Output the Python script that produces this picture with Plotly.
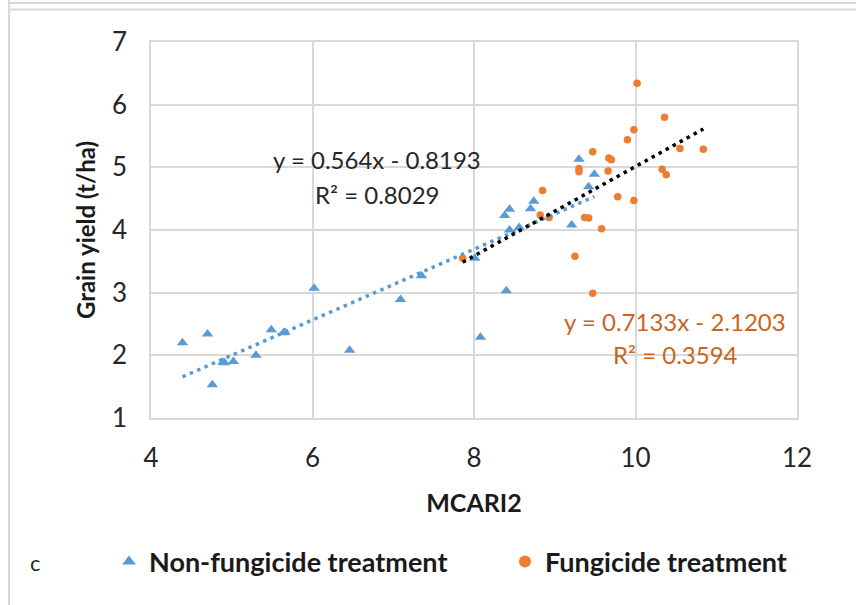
import plotly.graph_objects as go
import numpy as np

# Non-fungicide treatment (blue triangles)
nf_x = [4.39, 4.70, 4.76, 4.89, 4.91, 5.02, 5.30, 5.49, 5.64, 5.66, 6.02, 6.46, 7.09, 7.35,
        8.01, 8.40, 8.08, 8.38, 8.44, 8.44, 8.56, 8.70, 8.74, 9.21, 9.30, 9.42, 9.49]
nf_y = [2.20, 2.34, 1.53, 1.89, 1.88, 1.90, 2.00, 2.41, 2.36, 2.37, 3.07, 2.08, 2.89, 3.27,
        3.55, 3.03, 2.29, 4.23, 4.33, 4.00, 4.04, 4.34, 4.46, 4.08, 5.13, 4.69, 4.89]

# Fungicide treatment (orange circles)
f_x = [7.86, 10.02, 10.36, 9.98, 9.90, 9.47, 9.67, 9.70, 10.55, 10.84, 9.30, 9.30, 9.66,
       10.33, 10.38, 8.85, 9.78, 9.98, 8.82, 8.93, 9.37, 9.42, 9.58, 9.25, 9.47]
f_y = [3.55, 6.34, 5.80, 5.60, 5.44, 5.25, 5.15, 5.12, 5.30, 5.29, 4.98, 4.93, 4.94,
       4.97, 4.88, 4.63, 4.53, 4.47, 4.24, 4.20, 4.20, 4.19, 4.02, 3.58, 2.99]

# Trendline coefficients (slope, intercept) and R²
nf_fit = (0.564, -0.8193)
nf_r2 = 0.8029
f_fit = (0.7133, -2.1203)
f_r2 = 0.3594

x_ticks = [4, 6, 8, 10, 12]
y_ticks = [1, 2, 3, 4, 5, 6, 7]

BLUE = "#5B9BD5"
ORANGE = "#ED7D31"
FONT = "Lato"

fig = go.Figure()

fig.add_trace(go.Scatter(
    x=nf_x, y=nf_y, mode="markers", name="<b>Non-fungicide treatment</b>", legend="legend",
    marker=dict(symbol="triangle-up", size=10, color=BLUE)))
fig.add_trace(go.Scatter(
    x=f_x, y=f_y, mode="markers", name="<b>Fungicide treatment</b>", legend="legend2",
    marker=dict(symbol="circle", size=7.5, color=ORANGE)))

nf_tx = np.array([min(nf_x), max(nf_x)])
f_tx = np.array([min(f_x), max(f_x)])
fig.add_trace(go.Scatter(
    x=nf_tx, y=nf_fit[0] * nf_tx + nf_fit[1], mode="lines", showlegend=False,
    line=dict(color=BLUE, width=3.5, dash="3.5px,4.5px"), hoverinfo="skip"))
fig.add_trace(go.Scatter(
    x=f_tx, y=f_fit[0] * f_tx + f_fit[1], mode="lines", showlegend=False,
    line=dict(color="black", width=3.5, dash="3.5px,4.5px"), hoverinfo="skip"))

ann = [
    dict(x=6.80, y=5.12, text=f"y = {nf_fit[0]}x - {abs(nf_fit[1])}", font=dict(color="#262626")),
    dict(x=6.80, y=4.57, text=f"R² = {nf_r2}", font=dict(color="#262626")),
    dict(x=10.49, y=2.54, text=f"y = {f_fit[0]}x - {abs(f_fit[1])}", font=dict(color="#C9651F")),
    dict(x=10.49, y=2.01, text=f"R² = {f_r2}", font=dict(color="#C9651F")),
]
annotations = []
for a in ann:
    a["font"].update(family=FONT, size=24)
    annotations.append(dict(xref="x", yref="y", showarrow=False, xanchor="center",
                            yanchor="middle", **a))
annotations.append(dict(xref="paper", yref="paper", x=(35 - 151) / 646, y=(418 - 562) / 376,
                        text="c", showarrow=False, xanchor="center", yanchor="middle",
                        font=dict(family=FONT, size=22, color="#262626")))

grid = "#D9D9D9"
leg_common = dict(orientation="h", xanchor="left", y=(418 - 562) / 376, yanchor="middle",
                  font=dict(family=FONT, size=27, color="#1a1a1a"), itemsizing="constant",
                  bgcolor="rgba(0,0,0,0)")
fig.update_layout(
    width=856, height=605,
    margin=dict(l=151, r=59, t=42, b=187),
    paper_bgcolor="white", plot_bgcolor="white",
    font=dict(family=FONT, size=24, color="#404040"),
    xaxis=dict(range=[4, 12], tickvals=x_ticks, showgrid=True, gridcolor=grid, gridwidth=1.5,
               showline=True, linecolor=grid, linewidth=1.5, mirror=True, zeroline=False,
               ticks="", tickfont=dict(size=26, color="#262626"), ticklabelstandoff=16,
               title=dict(text="<b>MCARI2</b>", font=dict(size=25, color="#1a1a1a"), standoff=23)),
    yaxis=dict(range=[1, 7], tickvals=y_ticks, showgrid=True, gridcolor=grid, gridwidth=1.5,
               showline=True, linecolor=grid, linewidth=1.5, mirror=True, zeroline=False,
               ticks="", tickfont=dict(size=26, color="#262626"), ticklabelstandoff=17,
               title=dict(text="<b>Grain yield (t/ha)</b>", font=dict(size=24, color="#1a1a1a"),
                          standoff=10)),
    legend=dict(x=(109 - 151) / 646, **leg_common),
    legend2=dict(x=(505 - 151) / 646, **leg_common),
    annotations=annotations,
    shapes=[
        dict(type="line", xref="paper", yref="paper", x0=(9 - 151) / 646, x1=(856 - 151) / 646,
             y0=(418 - 3) / 376, y1=(418 - 3) / 376, line=dict(color=grid, width=2)),
        dict(type="line", xref="paper", yref="paper", x0=(9 - 151) / 646, x1=(856 - 151) / 646,
             y0=(418 - 9.5) / 376, y1=(418 - 9.5) / 376, line=dict(color=grid, width=2)),
        dict(type="line", xref="paper", yref="paper", x0=(9 - 151) / 646, x1=(9 - 151) / 646,
             y0=(418 - 0) / 376, y1=(418 - 605) / 376, line=dict(color=grid, width=2)),
    ],
)

fig.write_html("out.html")
